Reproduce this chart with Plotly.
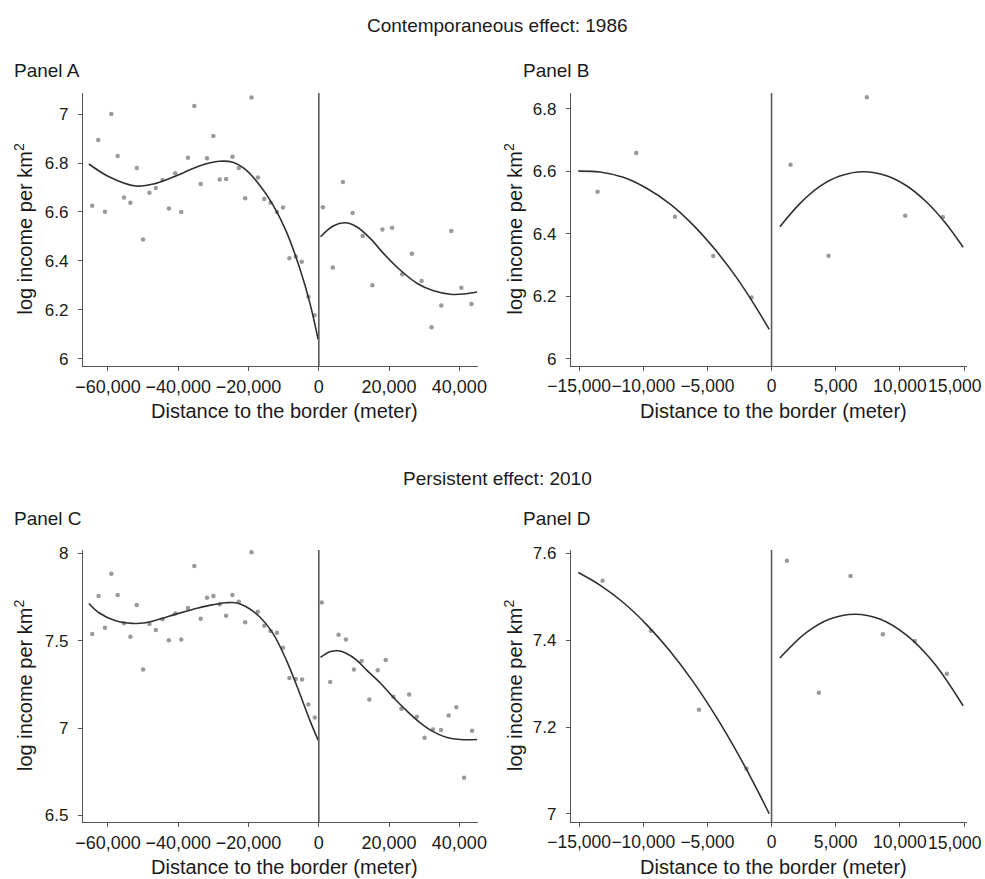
import plotly.graph_objects as go

W, H = 985, 879

# ---------------- data ----------------
# Panel A (1986, wide bandwidth)
a_left_x = [-64476, -62762, -60857, -59048, -57238, -55429, -53619, -51810, -50000, -48190,
            -46381, -44476, -42667, -40857, -39143, -37238, -35429, -33619, -31810, -30000,
            -28190, -26381, -24571, -22762, -20952, -19143, -17333, -15524, -13714, -11905,
            -10190, -8381, -6571, -4857, -2952, -1238]
a_left_y = [6.626, 6.894, 6.601, 7.000, 6.829, 6.659, 6.638, 6.780, 6.488, 6.679,
            6.698, 6.731, 6.614, 6.758, 6.600, 6.822, 7.033, 6.714, 6.819, 6.910,
            6.733, 6.735, 6.826, 6.780, 6.656, 7.068, 6.741, 6.653, 6.638, 6.600,
            6.618, 6.411, 6.418, 6.397, 6.254, 6.178]
a_right_x = [1143, 4000, 6857, 9619, 12476, 15238, 18095, 20857, 23714, 26476,
             29238, 32095, 34857, 37714, 40571, 43429]
a_right_y = [6.619, 6.373, 6.722, 6.596, 6.502, 6.301, 6.528, 6.536, 6.346, 6.429,
             6.318, 6.129, 6.218, 6.522, 6.291, 6.224]
a_fitl_x = [-65429, -59714, -52095, -46381, -40667, -34000, -28286, -24476, -20667,
            -16857, -13048, -9238, -5429, -2571, -190]
a_fitl_y = [6.796, 6.744, 6.706, 6.717, 6.747, 6.788, 6.807, 6.803, 6.771,
            6.710, 6.629, 6.520, 6.370, 6.230, 6.080]
a_fitr_x = [476, 4095, 7429, 10762, 14571, 18381, 23143, 27905, 32667, 37429, 41238, 45048]
a_fitr_y = [6.499, 6.543, 6.556, 6.540, 6.493, 6.431, 6.363, 6.309, 6.278, 6.264, 6.265, 6.273]

# Panel B (1986, narrow bandwidth)
b_left_x = [-13557, -10544, -7531, -4545, -1558]
b_left_y = [6.535, 6.659, 6.455, 6.329, 6.196]
b_right_x = [1480, 4441, 7427, 10414, 13349]
b_right_y = [6.621, 6.330, 6.837, 6.458, 6.454]
b_fitl_x = [-15062, -13375, -11557, -9739, -7921, -6103, -4285, -2727, -1428, -182]
b_fitl_y = [6.601, 6.598, 6.581, 6.546, 6.496, 6.428, 6.344, 6.260, 6.179, 6.094]
b_fitr_x = [649, 2207, 3766, 5324, 7142, 8960, 10518, 12076, 13634, 14933]
b_fitr_y = [6.423, 6.497, 6.552, 6.585, 6.599, 6.586, 6.554, 6.502, 6.431, 6.357]

# Panel C (2010, wide bandwidth)
c_left_x = [-64476, -62667, -60857, -59048, -57238, -55429, -53619, -51810, -50000, -48190,
            -46381, -44476, -42667, -40857, -39143, -37238, -35429, -33619, -31810, -30000,
            -28190, -26381, -24571, -22762, -20952, -19143, -17333, -15524, -13714, -11905,
            -10190, -8381, -6571, -4762, -2952, -1143]
c_left_y = [7.538, 7.755, 7.574, 7.883, 7.761, 7.599, 7.522, 7.704, 7.335, 7.595,
            7.561, 7.622, 7.503, 7.656, 7.507, 7.687, 7.927, 7.626, 7.746, 7.755,
            7.708, 7.643, 7.761, 7.723, 7.606, 8.006, 7.666, 7.585, 7.555, 7.545,
            7.459, 7.287, 7.280, 7.278, 7.135, 7.060]
c_right_x = [857, 3238, 5619, 7714, 10000, 12190, 14381, 16762, 19048, 21238,
             23524, 25714, 27905, 30095, 32476, 34762, 36952, 39143, 41333, 43619]
c_right_y = [7.719, 7.263, 7.534, 7.507, 7.335, 7.383, 7.163, 7.331, 7.389, 7.179,
             7.110, 7.192, 7.064, 6.944, 6.991, 6.988, 7.072, 7.119, 6.716, 6.984]
c_fitl_x = [-65429, -62571, -57810, -53048, -49238, -45429, -40667, -35905, -31143,
            -26381, -23524, -20667, -16857, -13048, -9238, -5429, -2571, -190]
c_fitl_y = [7.713, 7.660, 7.614, 7.599, 7.603, 7.622, 7.652, 7.679, 7.702,
            7.717, 7.717, 7.694, 7.637, 7.542, 7.389, 7.198, 7.045, 6.930]
c_fitr_x = [476, 3143, 5524, 7905, 10762, 13619, 17429, 21238, 25048, 28857, 32667,
            36476, 40286, 45048]
c_fitr_y = [7.404, 7.436, 7.442, 7.427, 7.389, 7.331, 7.259, 7.175, 7.098, 7.030, 6.978,
            6.946, 6.934, 6.934]

# Panel D (2010, narrow bandwidth)
d_left_x = [-13167, -9401, -5661, -1948]
d_left_y = [7.537, 7.422, 7.240, 7.104]
d_right_x = [1195, 3688, 6155, 8674, 11167, 13660]
d_right_y = [7.583, 7.279, 7.548, 7.414, 7.398, 7.323]
d_fitl_x = [-15063, -13375, -11557, -9739, -7921, -6103, -4285, -2467, -1169, -182]
d_fitl_y = [7.556, 7.527, 7.487, 7.436, 7.375, 7.304, 7.222, 7.130, 7.058, 7.000]
d_fitr_x = [649, 2727, 4545, 6493, 8440, 10518, 12595, 14933]
d_fitr_y = [7.359, 7.418, 7.449, 7.460, 7.449, 7.412, 7.350, 7.249]

# tick labels
wide_tick_vals = [-60000, -40000, -20000, 0, 20000, 40000]
wide_tick_text = ["\u221260,000", "\u221240,000", "\u221220,000", "0", "20,000", "40,000"]
narrow_tick_vals = [-15000, -10000, -5000, 0, 5000, 10000, 15000]
narrow_tick_text = ["\u221215,000", "\u221210,000", "\u22125,000", "0", "5,000", "10,000", "15,000"]
a_yticks = [6, 6.2, 6.4, 6.6, 6.8, 7]
a_ytext = ["6", "6.2", "6.4", "6.6", "6.8", "7"]
b_yticks = [6, 6.2, 6.4, 6.6, 6.8]
b_ytext = ["6", "6.2", "6.4", "6.6", "6.8"]
c_yticks = [6.5, 7, 7.5, 8]
c_ytext = ["6.5", "7", "7.5", "8"]
d_yticks = [7, 7.2, 7.4, 7.6]
d_ytext = ["7", "7.2", "7.4", "7.6"]

section_titles = ["Contemporaneous effect: 1986", "Persistent effect: 2010"]
panel_labels = ["Panel A", "Panel B", "Panel C", "Panel D"]
x_title = "Distance to the border (meter)"
y_title = "log income per km<sup>2</sup>"

# ---------------- styling ----------------
FONT = "Liberation Sans, Arial, Helvetica, sans-serif"
TXT = "#1a1a1a"
AXC = "#555555"
DOT = "#9a9a9a"
LINE = "#303030"

def px_x(p):
    return p / W

def px_y(p):
    return 1 - p / H

fig = go.Figure()

panels = [
    dict(ax="", lx=a_left_x, ly=a_left_y, rx=a_right_x, ry=a_right_y,
         flx=a_fitl_x, fly=a_fitl_y, frx=a_fitr_x, fry=a_fitr_y,
         xr=[-67100, 45300], yr=[5.971, 7.086], xt=(wide_tick_vals, wide_tick_text),
         yt=(a_yticks, a_ytext), dx=(83, 478), dy=(93, 366), narrow=False),
    dict(ax="2", lx=b_left_x, ly=b_left_y, rx=b_right_x, ry=b_right_y,
         flx=b_fitl_x, fly=b_fitl_y, frx=b_fitr_x, fry=b_fitr_y,
         xr=[-15631, 15234], yr=[5.977, 6.851], xt=(narrow_tick_vals, narrow_tick_text),
         yt=(b_yticks, b_ytext), dx=(571, 967), dy=(93, 366), narrow=True),
    dict(ax="3", lx=c_left_x, ly=c_left_y, rx=c_right_x, ry=c_right_y,
         flx=c_fitl_x, fly=c_fitl_y, frx=c_fitr_x, fry=c_fitr_y,
         xr=[-67100, 45300], yr=[6.462, 8.019], xt=(wide_tick_vals, wide_tick_text),
         yt=(c_yticks, c_ytext), dx=(83, 478), dy=(550, 822), narrow=False),
    dict(ax="4", lx=d_left_x, ly=d_left_y, rx=d_right_x, ry=d_right_y,
         flx=d_fitl_x, fly=d_fitl_y, frx=d_fitr_x, fry=d_fitr_y,
         xr=[-15631, 15234], yr=[6.981, 7.608], xt=(narrow_tick_vals, narrow_tick_text),
         yt=(d_yticks, d_ytext), dx=(571, 967), dy=(550, 822), narrow=True),
]

layout = {}
shapes = []
annotations = []
for p in panels:
    xa = "x" + p["ax"]
    ya = "y" + p["ax"]
    for xs, ys in ((p["lx"], p["ly"]), (p["rx"], p["ry"])):
        fig.add_trace(go.Scatter(x=xs, y=ys, mode="markers", xaxis=xa, yaxis=ya,
                                 marker=dict(color=DOT, size=4.5), showlegend=False,
                                 hoverinfo="skip"))
    for xs, ys in ((p["flx"], p["fly"]), (p["frx"], p["fry"])):
        fig.add_trace(go.Scatter(x=xs, y=ys, mode="lines", xaxis=xa, yaxis=ya,
                                 line=dict(color=LINE, width=1.6, shape="spline", smoothing=1.0),
                                 showlegend=False, hoverinfo="skip"))
    tvals, ttext = list(p["xt"][0]), list(p["xt"][1])
    xfs = 17.5 if p["narrow"] else 18
    if p["narrow"]:
        # the last label sits inside the figure edge (right-aligned), as in the reference
        last = ttext[-1]
        ttext[-1] = ""
        annotations.append(dict(text=last, x=px_x(983.5), y=px_y(p["dy"][1] + 20.5),
                                xref="paper", yref="paper", showarrow=False,
                                xanchor="right", yanchor="middle",
                                font=dict(family=FONT, size=xfs, color=TXT)))
    layout["xaxis" + p["ax"]] = dict(
        domain=[px_x(p["dx"][0]), px_x(p["dx"][1])], range=p["xr"], anchor=ya,
        tickvals=tvals, ticktext=ttext, ticks="outside", ticklen=4,
        tickcolor=AXC, showline=True, linecolor=AXC, linewidth=1.2, showgrid=False,
        zeroline=False, tickangle=0, automargin=False, ticklabeloverflow="allow",
        tickfont=dict(family=FONT, size=xfs, color=TXT), fixedrange=True,
    )
    layout["yaxis" + p["ax"]] = dict(
        domain=[px_y(p["dy"][1]), px_y(p["dy"][0])], range=p["yr"], anchor=xa,
        tickvals=p["yt"][0], ticktext=p["yt"][1], ticks="outside", ticklen=4,
        tickcolor=AXC, showline=True, linecolor=AXC, linewidth=1.2, showgrid=False,
        zeroline=False, automargin=False, ticklabeloverflow="allow",
        tickfont=dict(family=FONT, size=17, color=TXT), fixedrange=True,
        ticklabelstandoff=6,
    )
    shapes.append(dict(type="line", xref=xa, yref=ya + " domain", x0=0, x1=0, y0=0, y1=1,
                       line=dict(color="#5a5a5a", width=1.6)))

for txt, ypx in zip(section_titles, (26, 478)):
    annotations.append(dict(text=txt, x=px_x(497), y=px_y(ypx), xref="paper", yref="paper",
                            showarrow=False, xanchor="center", yanchor="middle",
                            font=dict(family=FONT, size=19, color=TXT)))
for txt, (xp, yp) in zip(panel_labels, ((12, 70), (521, 70), (12, 518), (521, 518))):
    annotations.append(dict(text=txt, x=px_x(xp), y=px_y(yp), xref="paper", yref="paper",
                            showarrow=False, xanchor="left", yanchor="middle",
                            font=dict(family=FONT, size=19, color=TXT)))
for p in panels:
    cx = (p["dx"][0] + p["dx"][1]) / 2 + 4
    annotations.append(dict(text=x_title, x=px_x(cx), y=px_y(p["dy"][1] + 45),
                            xref="paper", yref="paper", showarrow=False,
                            xanchor="center", yanchor="middle",
                            font=dict(family=FONT, size=20, color=TXT)))
    ytx = 23 if p["dx"][0] < 300 else 513
    cy = (p["dy"][0] + p["dy"][1]) / 2
    annotations.append(dict(text=y_title, x=px_x(ytx), y=px_y(cy), xref="paper", yref="paper",
                            showarrow=False, xanchor="center", yanchor="middle", textangle=-90,
                            font=dict(family=FONT, size=20, color=TXT)))

fig.update_layout(
    width=W, height=H, autosize=False,
    margin=dict(l=0, r=0, t=0, b=0, pad=0, autoexpand=False),
    paper_bgcolor="white", plot_bgcolor="white",
    shapes=shapes, annotations=annotations, showlegend=False,
    **layout,
)

fig.write_html("out.html")
